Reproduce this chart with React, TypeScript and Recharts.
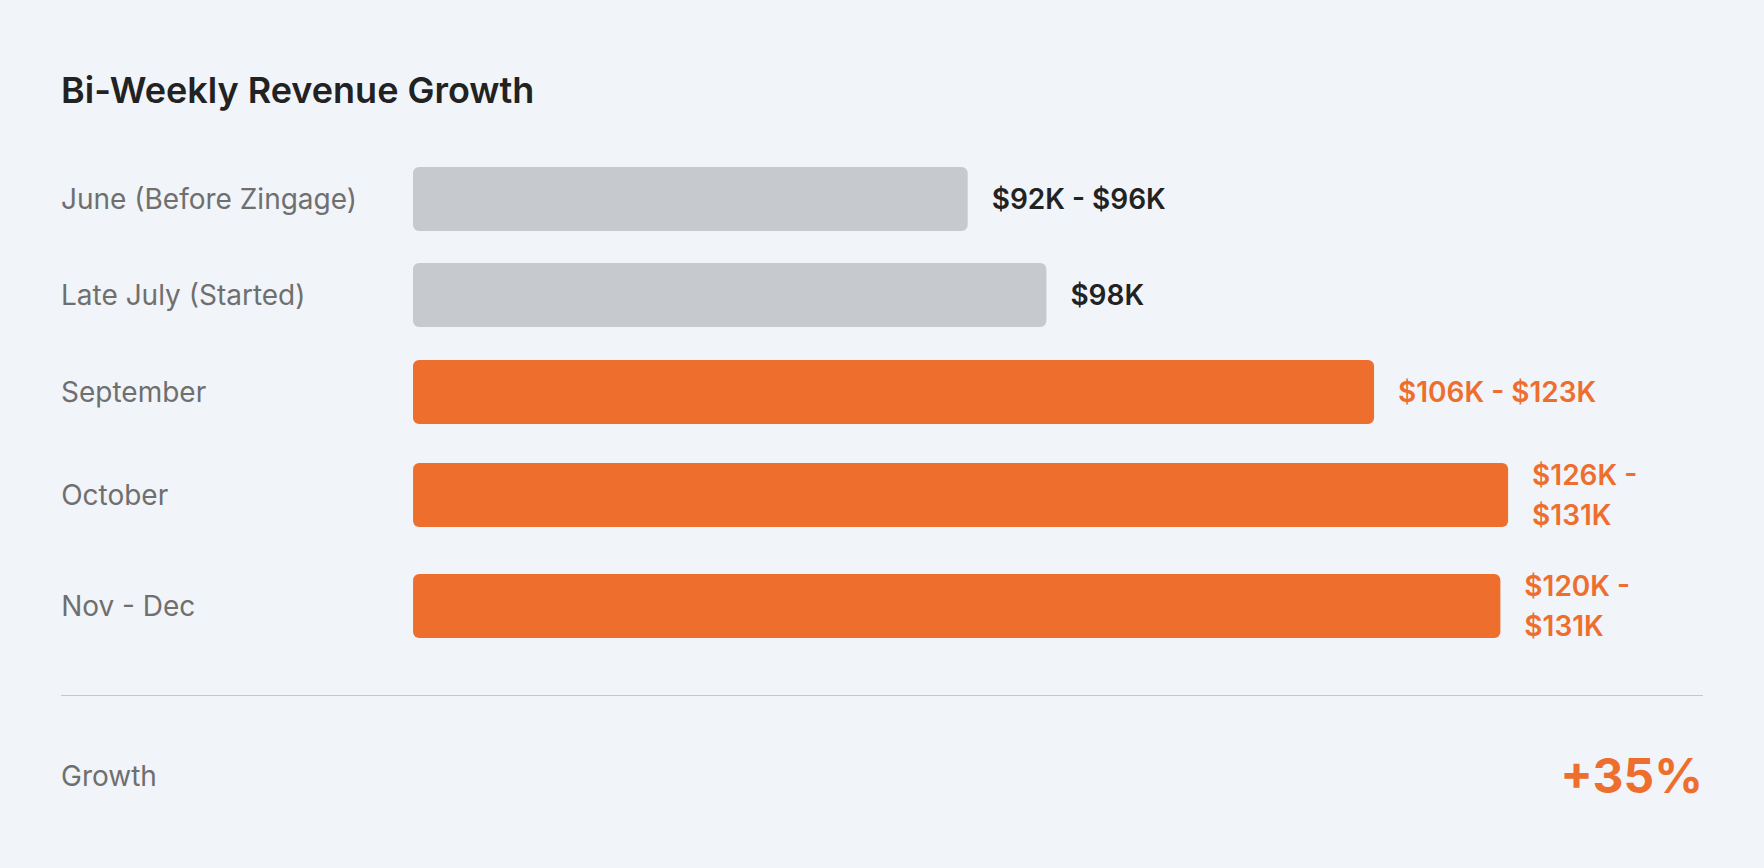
import React from "react";
import { Bar, BarChart, LabelList, XAxis, YAxis } from "recharts";

// one row per period
const periods = [
  "June (Before Zingage)",
  "Late July (Started)",
  "September",
  "October",
  "Nov - Dec",
];
// bar length on a 0-100 track
const barLength = [43, 49.1, 74.5, 84.9, 84.3];
const revenueLabels = [
  ["$92K - $96K"],
  ["$98K"],
  ["$106K - $123K"],
  ["$126K -", "$131K"],
  ["$120K -", "$131K"],
];
const withZingage = [false, false, true, true, true];
const growthLabel = "Growth";
const growthValue = "+35%";

const FONT = "Inter, 'Noto Sans', sans-serif";
const BG = "#f1f4f9";
const ORANGE = "#ee6e2e";
const GREY_BAR = "#c6c9ce";
const DARK = "#222222";
const MUTED = "#6f6f6f";

const LEFT = 61;
const CHART_W = 1642;
const LABEL_W = 352;
const BAR_H = 64;
const LINE_H = 39.6;
const ROW_GAP = 31.5;
const FONT_SIZE = 28;

function RevenueRow({ index }: { index: number }) {
  const lines = revenueLabels[index];
  // keep the band a bit taller than the bar, or recharts shrinks the bar
  const height = Math.max(BAR_H + 1, lines.length * LINE_H);
  const data = [{ name: periods[index], value: barLength[index] }];
  const barColor = withZingage[index] ? ORANGE : GREY_BAR;
  const textColor = withZingage[index] ? ORANGE : DARK;

  const renderTick = (props: any) => (
    <text
      x={0}
      y={props.y}
      dominantBaseline="central"
      textAnchor="start"
      fill={MUTED}
      fontSize={FONT_SIZE}
      fontFamily={FONT}
    >
      {props.payload.value}
    </text>
  );

  const renderValue = (props: any) => {
    const x = Number(props.x) + Number(props.width) + 24;
    const cy = Number(props.y) + Number(props.height) / 2;
    return (
      <text
        fill={textColor}
        fontSize={FONT_SIZE}
        fontWeight={600}
        fontFamily={FONT}
        dominantBaseline="central"
      >
        {lines.map((line, i) => (
          <tspan key={i} x={x} y={cy + (i - (lines.length - 1) / 2) * LINE_H}>
            {line}
          </tspan>
        ))}
      </text>
    );
  };

  return (
    <BarChart
      width={CHART_W}
      height={height}
      data={data}
      layout="vertical"
      margin={{ top: 0, right: 0, bottom: 0, left: 0 }}
      barCategoryGap={0}
    >
      <XAxis type="number" domain={[0, 100]} hide />
      <YAxis
        type="category"
        dataKey="name"
        width={LABEL_W}
        axisLine={false}
        tickLine={false}
        tick={renderTick}
      />
      <Bar
        dataKey="value"
        barSize={BAR_H}
        radius={6}
        fill={barColor}
        isAnimationActive={false}
      >
        <LabelList content={renderValue} />
      </Bar>
    </BarChart>
  );
}

export default function App() {
  return (
    <div
      style={{
        position: "relative",
        width: 1764,
        height: 868,
        background: BG,
        fontFamily: FONT,
        overflow: "hidden",
      }}
    >
      <style>{`body { margin: 0; background: ${BG}; }`}</style>
      <div
        style={{
          position: "absolute",
          left: LEFT,
          top: 71.6,
          fontSize: 36,
          lineHeight: 1,
          fontWeight: 600,
          color: DARK,
          whiteSpace: "nowrap",
        }}
      >
        Bi-Weekly Revenue Growth
      </div>
      <div
        style={{
          position: "absolute",
          left: LEFT,
          top: 165.5,
          display: "flex",
          flexDirection: "column",
          gap: ROW_GAP,
        }}
      >
        {periods.map((_, i) => (
          <RevenueRow key={i} index={i} />
        ))}
      </div>
      <div
        style={{
          position: "absolute",
          left: LEFT,
          top: 694.5,
          width: CHART_W,
          height: 1.5,
          background: "#c5c8cd",
        }}
      />
      <div
        style={{
          position: "absolute",
          left: LEFT,
          top: 736,
          width: CHART_W,
          height: 80,
          display: "flex",
          alignItems: "center",
          justifyContent: "space-between",
        }}
      >
        <span style={{ fontSize: FONT_SIZE, color: MUTED }}>{growthLabel}</span>
        <span style={{ fontSize: 48, fontWeight: 700, color: ORANGE, lineHeight: 1 }}>
          {growthValue}
        </span>
      </div>
    </div>
  );
}
